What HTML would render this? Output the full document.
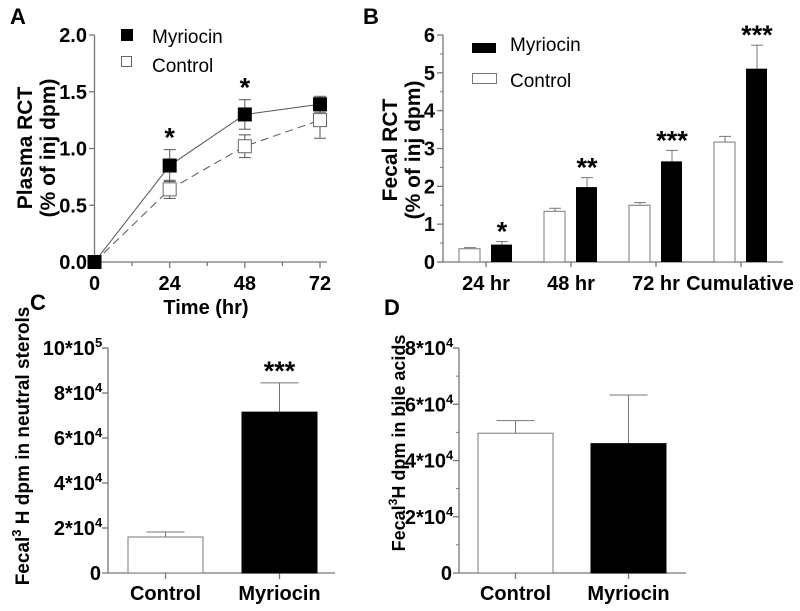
<!DOCTYPE html>
<html><head><meta charset="utf-8"><style>
body{margin:0;background:#fff}
svg{display:block;font-family:"Liberation Sans",Arial,sans-serif}
</style></head><body>
<svg id="fig" width="800" height="611" viewBox="0 0 800 611"></svg>
<script>
// Panel A data
const aTimes=[0,24,48,72];
const aMyr=[0,0.85,1.30,1.39];
const aMyrErr=[0,0.14,0.13,0.07];
const aCtl=[0,0.64,1.02,1.25];
const aCtlErr=[0,0.08,0.10,0.16];
const aYTicks=[0,0.5,1.0,1.5,2.0];
const aXTicks=[0,24,48,72];
const aStars=["","*","*",""];
// Panel B data
const bCats=["24 hr","48 hr","72 hr","Cumulative"];
const bCtl=[0.35,1.34,1.50,3.17];
const bCtlErr=[0.03,0.08,0.07,0.15];
const bMyr=[0.46,1.98,2.66,5.11];
const bMyrErr=[0.08,0.25,0.29,0.62];
const bStars=["*","**","***","***"];
const bYTicks=[0,1,2,3,4,5,6];
// Panel C data
const cCats=["Control","Myriocin"];
const cVals=[1.6,7.15];
const cErr=[0.22,1.3];
const cYTicks=[0,2,4,6,8,10];
const cYLabels=["0","2*10","4*10","6*10","8*10","10*10"];
const cYExp=["","4","4","4","4","5"];
// Panel D data
const dCats=["Control","Myriocin"];
const dVals=[4.97,4.6];
const dErr=[0.45,1.73];
const dYTicks=[0,2,4,6,8];
const dYLabels=["0","2*10","4*10","6*10","8*10"];
const dYExp=["","4","4","4","4"];

const svg=document.getElementById('fig');
const NS='http://www.w3.org/2000/svg';
function el(tag,attrs,parent){const e=document.createElementNS(NS,tag);for(const k in attrs)e.setAttribute(k,attrs[k]);(parent||svg).appendChild(e);return e;}
function txt(x,y,s,size,weight,anchor,parent,rot){const t=el('text',{x:x,y:y,'font-size':size,'font-weight':weight,'text-anchor':anchor||'middle',fill:'#000'},parent);if(rot)t.setAttribute('transform','rotate(-90 '+x+' '+y+')');t.textContent=s;return t;}
const AX='#777';
const TF=20, SF=27;

// ---------- Panel A ----------
const gA=el('g',{});

const axX=v=>94.5+v*(320-94.5)/72, ayY=v=>262-v*(262-35)/2;
el('line',{x1:94.5,y1:35,x2:94.5,y2:262,stroke:AX,'stroke-width':1.3},gA);
el('line',{x1:94.5,y1:262,x2:327,y2:262,stroke:AX,'stroke-width':1.3},gA);
aYTicks.forEach(v=>{el('line',{x1:89,x2:94.5,y1:ayY(v),y2:ayY(v),stroke:AX,'stroke-width':1.3},gA);const t=txt(87,ayY(v)+7,v.toFixed(1),TF,'bold','end',gA);});
[12,36,60].forEach(v=>el('line',{x1:axX(v),x2:axX(v),y1:262,y2:266,stroke:AX,'stroke-width':1.3},gA));
aXTicks.forEach(v=>{el('line',{x1:axX(v),x2:axX(v),y1:262,y2:268,stroke:AX,'stroke-width':1.3},gA);const t=txt(axX(v),290,String(v),TF,'bold','middle',gA);});
let t=txt(206,314,'Time (hr)',TF,'bold','middle',gA);
t=txt(32,148,'Plasma RCT',21,'bold','middle',gA,true);
txt(55,148,'(% of inj dpm)',21,'bold','middle',gA,true);
txt(18,24,'A',22,'bold','middle',gA);
el('polyline',{points:aTimes.map((x,i)=>axX(x)+','+ayY(aCtl[i])).join(' '),fill:'none',stroke:'#555','stroke-width':1,'stroke-dasharray':'8,5'},gA);
el('polyline',{points:aTimes.map((x,i)=>axX(x)+','+ayY(aMyr[i])).join(' '),fill:'none',stroke:'#555','stroke-width':1},gA);
aTimes.forEach((x,i)=>{
 const cx=axX(x);
 if(aCtlErr[i]){el('line',{x1:cx,x2:cx,y1:ayY(aCtl[i]-aCtlErr[i]),y2:ayY(aCtl[i]+aCtlErr[i]),stroke:'#555'},gA);[aCtl[i]-aCtlErr[i],aCtl[i]+aCtlErr[i]].forEach(v=>el('line',{x1:cx-6,x2:cx+6,y1:ayY(v),y2:ayY(v),stroke:'#555'},gA));}
 if(aMyrErr[i]){el('line',{x1:cx,x2:cx,y1:ayY(aMyr[i]-aMyrErr[i]),y2:ayY(aMyr[i]+aMyrErr[i]),stroke:'#555'},gA);[aMyr[i]-aMyrErr[i],aMyr[i]+aMyrErr[i]].forEach(v=>el('line',{x1:cx-6,x2:cx+6,y1:ayY(v),y2:ayY(v),stroke:'#555'},gA));}
 const c=el('rect',{x:cx-6.5,y:ayY(aCtl[i])-6.5,width:13,height:13,fill:i==0?'#000':'#fff',stroke:'#666','stroke-width':1},gA);
 
 const m=el('rect',{x:cx-7,y:ayY(aMyr[i])-7,width:14,height:14,fill:'#000'},gA);
 
 if(aStars[i])txt(cx,ayY(aMyr[i]+aMyrErr[i])-3,aStars[i],SF,'bold','middle',gA);
});
el('rect',{x:121,y:29,width:12,height:12,fill:'#000'},gA);
txt(152,43,'Myriocin',19,'normal','start',gA);
el('rect',{x:121.5,y:56.5,width:10,height:10,fill:'#fff',stroke:'#666'},gA);
txt(152,72,'Control',19,'normal','start',gA);

// ---------- Panel B ----------
const gB=el('g',{});

const bY=v=>262-v*(262-35)/6, bCx=i=>486+i*85;
el('line',{x1:443,y1:35,x2:443,y2:262,stroke:AX,'stroke-width':1.3},gB);
el('line',{x1:443,y1:262,x2:783,y2:262,stroke:AX,'stroke-width':1.3},gB);
bYTicks.forEach(v=>{el('line',{x1:437,x2:443,y1:bY(v),y2:bY(v),stroke:AX,'stroke-width':1.3},gB);if(v<6)el('line',{x1:440,x2:443,y1:bY(v+0.5),y2:bY(v+0.5),stroke:AX},gB);txt(435,bY(v)+7,String(v),TF,'bold','end',gB);});
bCats.forEach((c,i)=>{
 const cx=bCx(i);
 el('line',{x1:cx,x2:cx,y1:262,y2:267,stroke:AX,'stroke-width':1.3},gB);
 const l=txt(i==3?740:cx,290,c,TF,'bold','middle',gB);
 el('line',{x1:cx-16,x2:cx-16,y1:bY(bCtl[i]),y2:bY(bCtl[i]+bCtlErr[i]),stroke:'#777'},gB);
 el('line',{x1:cx-22,x2:cx-10,y1:bY(bCtl[i]+bCtlErr[i]),y2:bY(bCtl[i]+bCtlErr[i]),stroke:'#777'},gB);
 const r=el('rect',{x:cx-27,y:bY(bCtl[i]),width:21,height:262-bY(bCtl[i]),fill:'#fff',stroke:'#777'},gB);
 
 el('line',{x1:cx+16,x2:cx+16,y1:bY(bMyr[i]),y2:bY(bMyr[i]+bMyrErr[i]),stroke:'#777'},gB);
 el('line',{x1:cx+10,x2:cx+22,y1:bY(bMyr[i]+bMyrErr[i]),y2:bY(bMyr[i]+bMyrErr[i]),stroke:'#777'},gB);
 const m=el('rect',{x:cx+5,y:bY(bMyr[i]),width:21,height:262-bY(bMyr[i]),fill:'#000'},gB);
 
 txt(cx+16,bY(bMyr[i]+bMyrErr[i])-1,bStars[i],SF,'bold','middle',gB);
});
txt(397,150,'Fecal RCT',21,'bold','middle',gB,true);
txt(420,150,'(% of inj dpm)',21,'bold','middle',gB,true);
txt(371,24,'B',22,'bold','middle',gB);
el('rect',{x:472,y:43,width:24,height:10,fill:'#000'},gB);
txt(510,51,'Myriocin',19,'normal','start',gB);
el('rect',{x:472.5,y:73.5,width:24,height:10,fill:'#fff',stroke:'#777'},gB);
txt(510,87,'Control',19,'normal','start',gB);

// ---------- Panels C & D ----------
function barPanel(name,ax,axEnd,yTop,maxV,ticks,labels,exps,cats,vals,errs,bars,stars,minor){
 const g=el('g',{});
 
 const Y=v=>573-v*(573-yTop)/maxV;
 el('line',{x1:ax,y1:yTop,x2:ax,y2:573,stroke:AX,'stroke-width':1.3},g);
 el('line',{x1:ax,y1:573,x2:axEnd,y2:573,stroke:AX,'stroke-width':1.3},g);
 ticks.forEach((v,i)=>{el('line',{x1:ax-6,x2:ax,y1:Y(v),y2:Y(v),stroke:AX,'stroke-width':1.3},g);
  if(minor&&i<ticks.length-1)el('line',{x1:ax-3,x2:ax,y1:Y(v+1),y2:Y(v+1),stroke:AX},g);
  const tt=el('text',{x:ax-7,y:Y(v)+7,'font-size':TF,'font-weight':'bold','text-anchor':'end'},g);
  
  tt.textContent=labels[i];
  if(exps[i]){tt.setAttribute('x',ax-13);const s=el('text',{x:ax-13,y:Y(v)-1,'font-size':13,'font-weight':'bold','text-anchor':'start'},g);s.textContent=exps[i];}
 });
 cats.forEach((c,i)=>{
  const b=bars[i],cx=(b[0]+b[1])/2;
  el('line',{x1:cx,x2:cx,y1:573,y2:579,stroke:AX,'stroke-width':1.3},g);
  const l=txt(cx,600,c,TF,'bold','middle',g);
  el('line',{x1:cx,x2:cx,y1:Y(vals[i]),y2:Y(vals[i]+errs[i]),stroke:'#777'},g);
  el('line',{x1:cx-19,x2:cx+19,y1:Y(vals[i]+errs[i]),y2:Y(vals[i]+errs[i]),stroke:'#777'},g);
  const r=el('rect',{x:b[0],y:Y(vals[i]),width:b[1]-b[0],height:573-Y(vals[i]),fill:i==0?'#fff':'#000',stroke:i==0?'#777':'#000'},g);
  
  if(stars[i])txt(cx,Y(vals[i]+errs[i])-3,stars[i],SF,'bold','middle',g);
 });
 return g;
}
const gC=barPanel('panel-c',108,335,348,10,cYTicks,cYLabels,cYExp,cCats,cVals,cErr,[[128,203],[242,317]],["","***"],false);
txt(38,310,'C',22,'bold','middle',gC);
let yt=el('text',{x:29,y:446,'font-size':19,'font-weight':'bold','text-anchor':'middle',transform:'rotate(-90 29 446)'},gC);

yt.innerHTML='Fecal<tspan dy="-8" font-size="13">3</tspan><tspan dy="8"> H dpm in neutral sterols</tspan>';
const gD=barPanel('panel-d',459,686,348,8,dYTicks,dYLabels,dYExp,dCats,dVals,dErr,[[478,553],[591,666]],["",""],true);
txt(392,315,'D',22,'bold','middle',gD);
yt=el('text',{x:405,y:443,'font-size':18,'font-weight':'bold','text-anchor':'middle',transform:'rotate(-90 405 443)'},gD);

yt.innerHTML='Fecal<tspan dy="-8" font-size="12">3</tspan><tspan dy="8">H dpm in bile acids</tspan>';
</script>
</body></html>
